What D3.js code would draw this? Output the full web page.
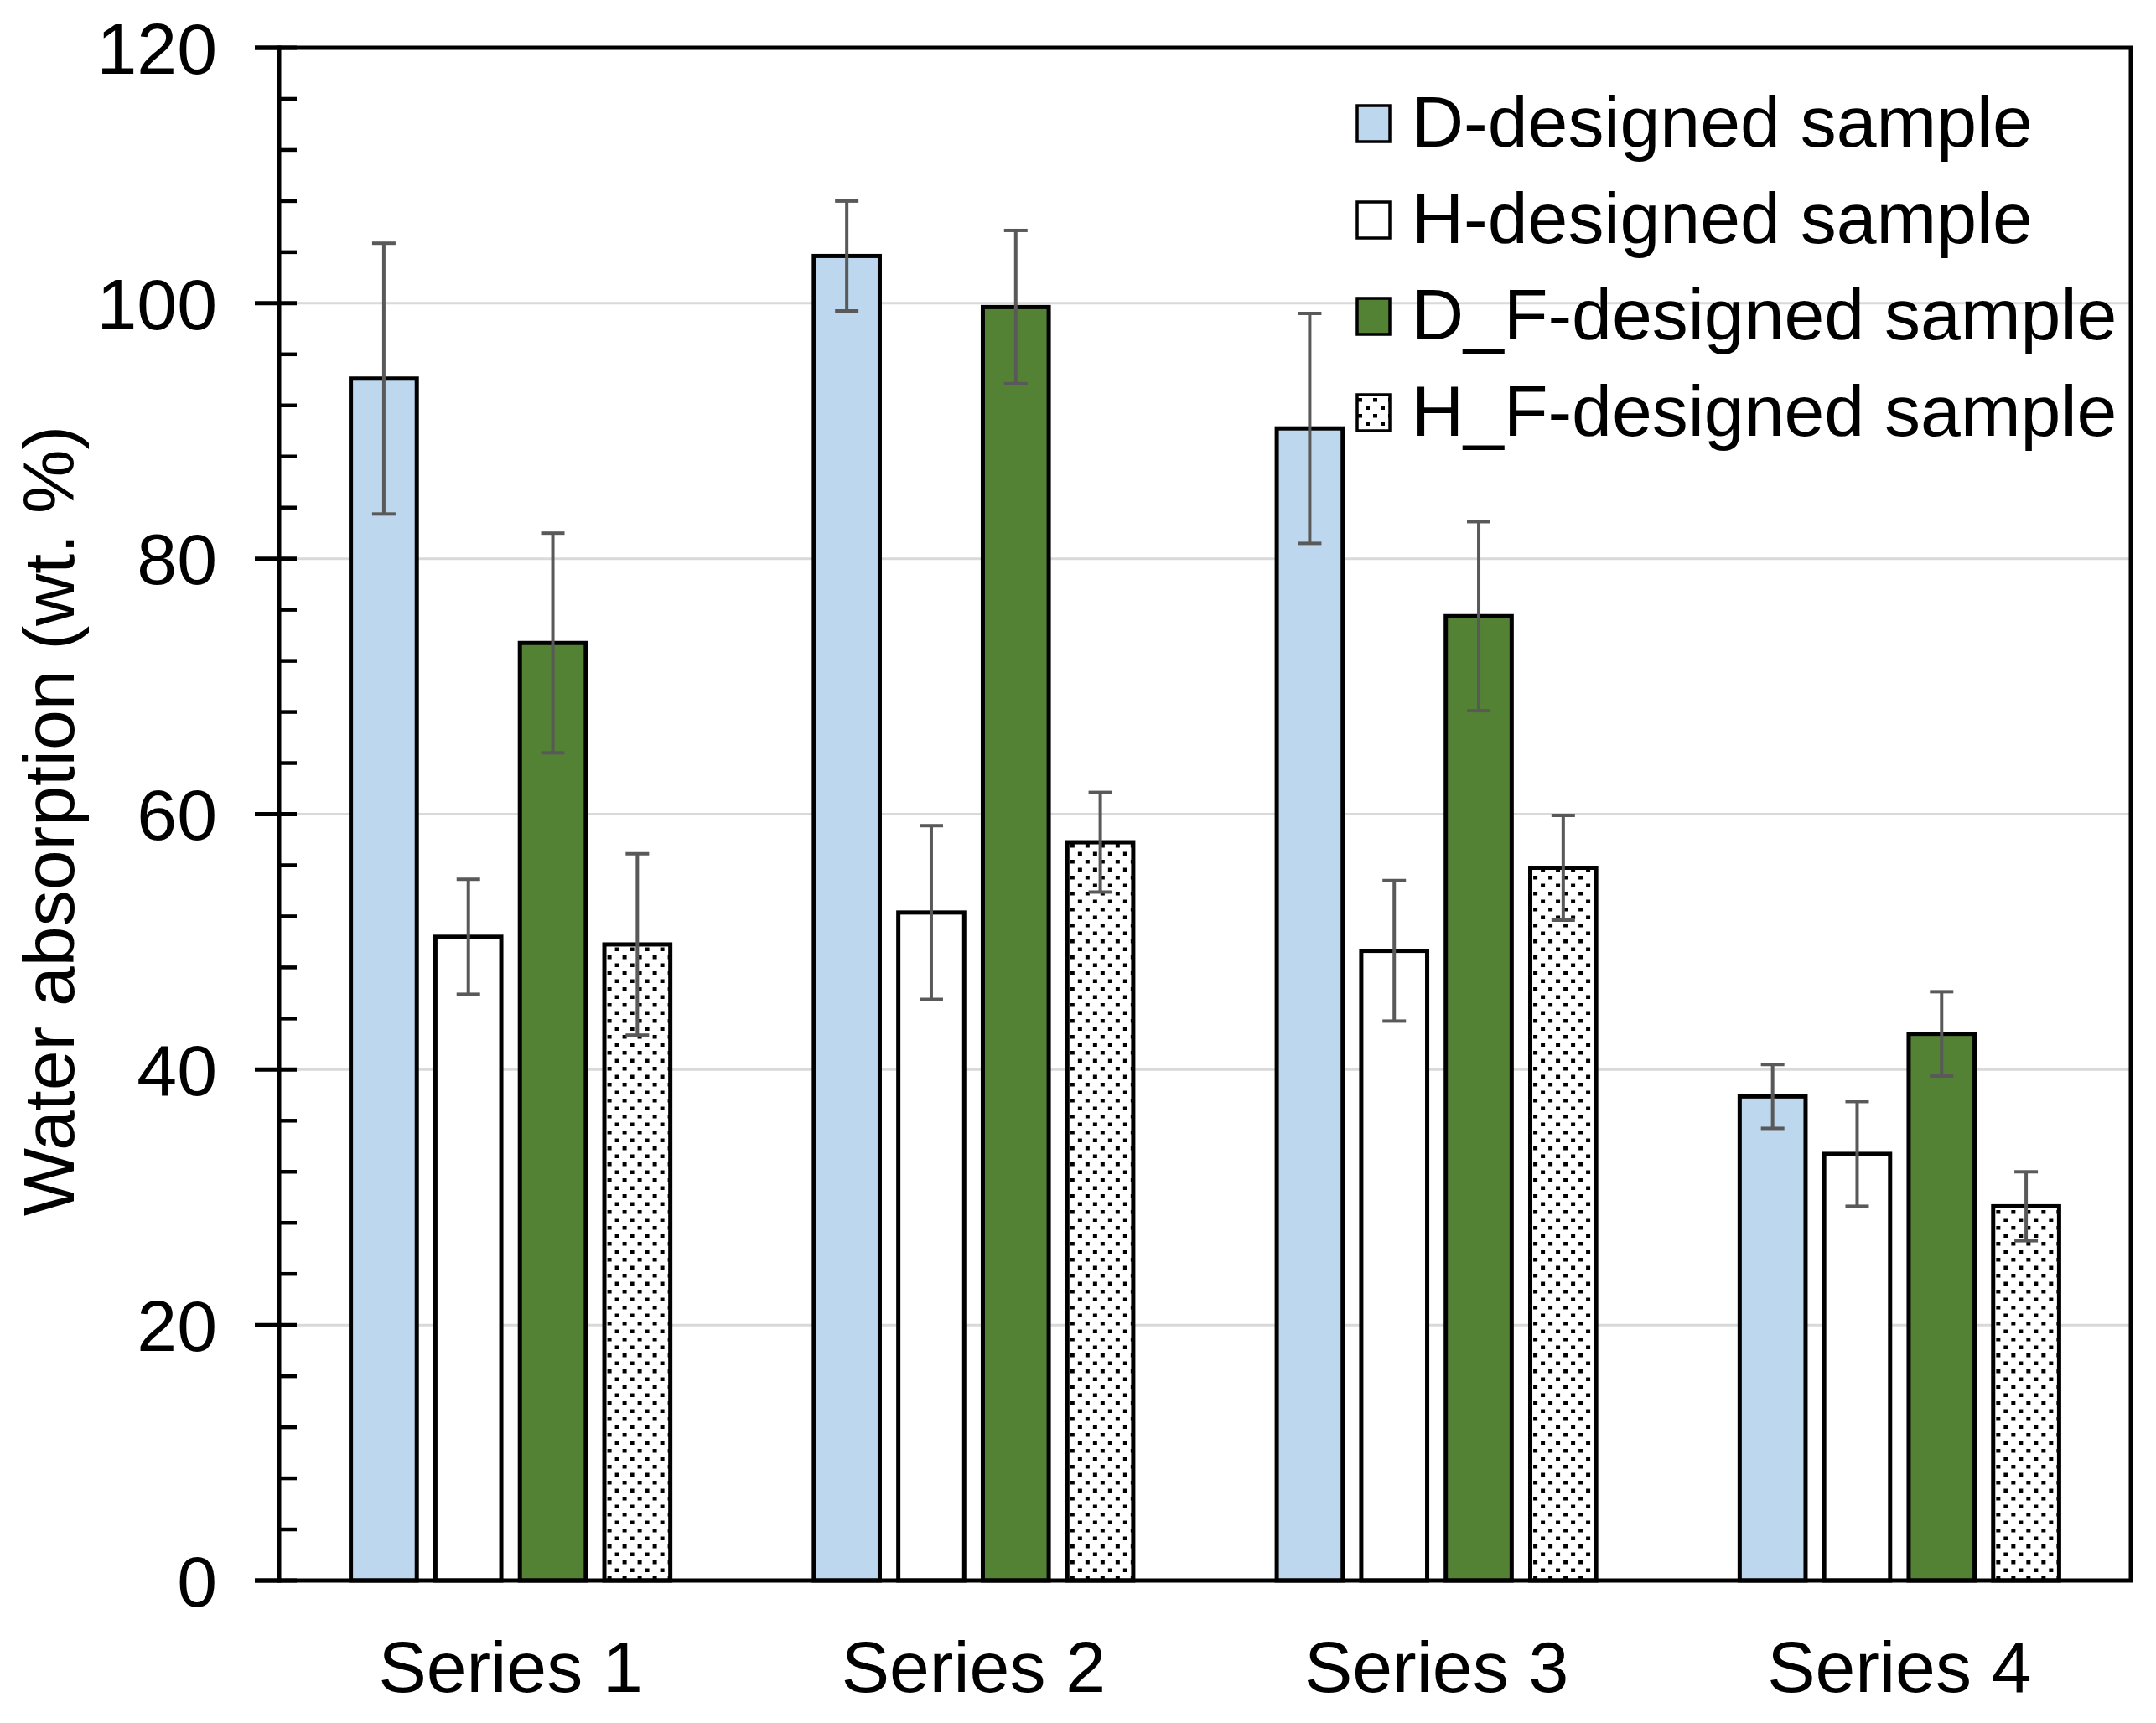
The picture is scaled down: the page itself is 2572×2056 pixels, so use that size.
<!DOCTYPE html>
<html>
<head>
<meta charset="utf-8">
<script src="https://cdn.jsdelivr.net/npm/d3@7/dist/d3.min.js"></script>
<style>
  html, body { margin: 0; padding: 0; background: #ffffff; }
  svg { display: block; }
  text { font-family: "Liberation Sans", Arial, sans-serif; fill: #000; }
</style>
</head>
<body>
<svg id="chart" width="2572" height="2056"></svg>
<script>
// ---- data ----
const categories = ["Series 1", "Series 2", "Series 3", "Series 4"];
const seriesNames = ["D-designed sample", "H-designed sample", "D_F-designed sample", "H_F-designed sample"];
const dValues  = [94.1, 103.7, 90.2, 37.9];
const dErr     = [10.6, 4.3, 9.0, 2.5];
const hValues  = [50.4, 52.3, 49.3, 33.4];
const hErr     = [4.5, 6.8, 5.5, 4.1];
const dfValues = [73.4, 99.7, 75.5, 42.8];
const dfErr    = [8.6, 6.0, 7.4, 3.3];
const hfValues = [49.8, 57.8, 55.8, 29.3];
const hfErr    = [7.1, 3.9, 4.1, 2.7];
const yTicks   = [0, 20, 40, 60, 80, 100, 120];
const yTitle   = "Water absorption (wt. %)";

const seriesValues = [dValues, hValues, dfValues, hfValues];
const seriesErrs   = [dErr, hErr, dfErr, hfErr];

// ---- layout ----
const plotL = 333, plotR = 2542, plotT = 57, plotB = 1886;
const FS = 86;

const svg = d3.select("#chart");
const defs = svg.append("defs");
const pat = defs.append("pattern")
  .attr("id", "dots").attr("patternUnits", "userSpaceOnUse")
  .attr("width", 18).attr("height", 19);
pat.append("rect").attr("width", 18).attr("height", 19).attr("fill", "#fff");
pat.append("rect").attr("x", 0).attr("y", 0).attr("width", 5).attr("height", 4.5).attr("fill", "#000");
pat.append("rect").attr("x", 9).attr("y", 9.5).attr("width", 5).attr("height", 4.5).attr("fill", "#000");

const fills = ["#bdd7ee", "#ffffff", "#548235", "url(#dots)"];

const y = d3.scaleLinear().domain([0, 120]).range([plotB, plotT]);
const x0 = d3.scaleBand().domain(categories).range([plotL, plotR])
  .paddingInner(0.31).paddingOuter(0.155);
const x1 = d3.scaleBand().domain(d3.range(seriesNames.length)).range([0, x0.bandwidth()])
  .paddingInner(0.22).paddingOuter(0);

// gridlines
svg.append("g").selectAll("line")
  .data(yTicks.filter(t => t > 0 && t < 120))
  .join("line")
  .attr("x1", plotL).attr("x2", plotR)
  .attr("y1", d => y(d)).attr("y2", d => y(d))
  .attr("stroke", "#d9d9d9").attr("stroke-width", 3);

// bars
const groups = svg.append("g").selectAll("g")
  .data(categories)
  .join("g")
  .attr("transform", c => `translate(${x0(c)},0)`);

groups.each(function(c, ci) {
  const g = d3.select(this);
  seriesNames.forEach((s, si) => {
    const v = seriesValues[si][ci];
    g.append("rect")
      .attr("x", x1(si)).attr("width", x1.bandwidth())
      .attr("y", y(v)).attr("height", y(0) - y(v))
      .attr("fill", fills[si])
      .attr("stroke", "#000").attr("stroke-width", 5);
  });
});

// error bars
groups.each(function(c, ci) {
  const g = d3.select(this);
  seriesNames.forEach((s, si) => {
    const v = seriesValues[si][ci], e = seriesErrs[si][ci];
    const cx = x1(si) + x1.bandwidth() / 2;
    const col = "#595959";
    g.append("line").attr("x1", cx).attr("x2", cx)
      .attr("y1", y(v + e)).attr("y2", y(v - e))
      .attr("stroke", col).attr("stroke-width", 4);
    [v + e, v - e].forEach(yy => {
      g.append("line").attr("x1", cx - 14).attr("x2", cx + 14)
        .attr("y1", y(yy)).attr("y2", y(yy))
        .attr("stroke", col).attr("stroke-width", 4);
    });
  });
});

// frame: top & right
svg.append("line").attr("x1", plotL - 29).attr("x2", plotR + 2.5).attr("y1", plotT).attr("y2", plotT)
  .attr("stroke", "#000").attr("stroke-width", 5);
svg.append("line").attr("x1", plotR).attr("x2", plotR).attr("y1", plotT).attr("y2", plotB)
  .attr("stroke", "#000").attr("stroke-width", 5);

// y axis with minor ticks (inside) and major ticks (cross)
const yAxis = svg.append("g");
yAxis.append("line").attr("x1", plotL).attr("x2", plotL).attr("y1", plotT - 2.5).attr("y2", plotB + 2.5)
  .attr("stroke", "#000").attr("stroke-width", 5);
const minorTicks = d3.range(0, 121, 4).filter(t => t % 20 !== 0);
yAxis.selectAll("line.minor").data(minorTicks).join("line").attr("class", "minor")
  .attr("x1", plotL).attr("x2", plotL + 21)
  .attr("y1", d => y(d)).attr("y2", d => y(d))
  .attr("stroke", "#000").attr("stroke-width", 4.5);
yAxis.selectAll("line.major").data(yTicks).join("line").attr("class", "major")
  .attr("x1", plotL - 29).attr("x2", plotL + 21)
  .attr("y1", d => y(d)).attr("y2", d => y(d))
  .attr("stroke", "#000").attr("stroke-width", 5);
yAxis.selectAll("text").data(yTicks).join("text")
  .attr("x", plotL - 74).attr("y", d => y(d) + FS * 0.358)
  .attr("text-anchor", "end").attr("font-size", FS)
  .text(d => d);

// x axis
svg.append("line").attr("x1", plotL - 29).attr("x2", plotR + 2.5).attr("y1", plotB).attr("y2", plotB)
  .attr("stroke", "#000").attr("stroke-width", 5);
svg.append("g").selectAll("text").data(categories).join("text")
  .attr("x", c => x0(c) + x0.bandwidth() / 2).attr("y", 2019)
  .attr("text-anchor", "middle").attr("font-size", FS)
  .text(c => c);

// y title
svg.append("text")
  .attr("transform", `translate(88, ${(plotT + plotB) / 2 + 8}) rotate(-90)`)
  .attr("text-anchor", "middle").attr("font-size", FS)
  .text(yTitle);

// legend
const leg = svg.append("g");
seriesNames.forEach((s, i) => {
  const base = 175 + i * 115;
  leg.append("rect").attr("x", 1619).attr("y", base - 49).attr("width", 39).attr("height", 43)
    .attr("fill", fills[i]).attr("stroke", "#000").attr("stroke-width", 3.5);
  leg.append("text").attr("x", 1684).attr("y", base).attr("font-size", FS).text(s);
});
</script>
</body>
</html>
